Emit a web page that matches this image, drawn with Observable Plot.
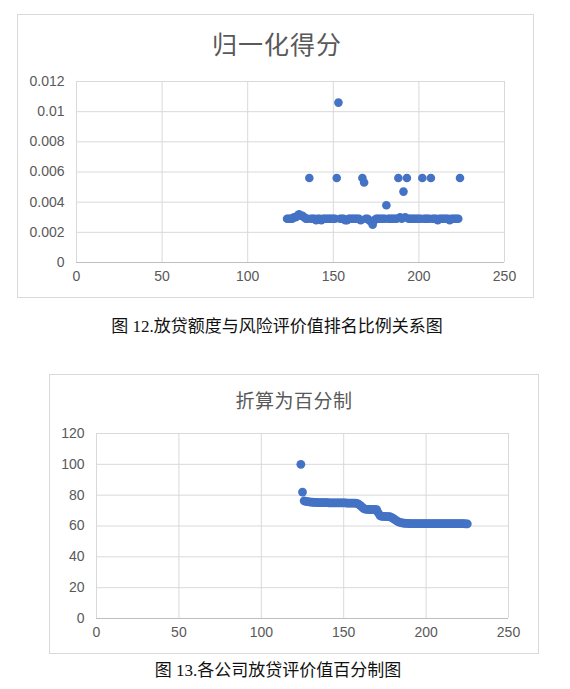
<!DOCTYPE html>
<html><head><meta charset="utf-8">
<script src="https://cdn.jsdelivr.net/npm/d3@7"></script>
<script src="https://cdn.jsdelivr.net/npm/@observablehq/plot@0.6"></script>
<style>
body{margin:0;background:#fff;width:570px;height:689px;position:relative;overflow:hidden;font-family:"Noto Sans CJK SC",sans-serif;}
.box{position:absolute;border:1px solid #d9d9d9;box-sizing:border-box;}
.title{position:absolute;text-align:center;color:#595959;white-space:nowrap;}
.caption{position:absolute;left:0;text-align:center;color:#111;font-family:"Liberation Serif","Noto Sans CJK SC",serif;white-space:nowrap;}
.plot{position:absolute;left:0;}
</style></head><body>
<div class="box" style="left:17px;top:14px;width:517px;height:284px"></div>
<div class="title" style="left:17px;width:520px;top:26px;font-size:25px;line-height:34px;letter-spacing:1px">归一化得分</div>
<div class="plot" id="p1" style="top:60px"></div>
<div class="caption" style="width:554px;top:315px;font-size:17px;line-height:24px">图 12.放贷额度与风险评价值排名比例关系图</div>

<div class="box" style="left:49px;top:374px;width:490px;height:280px"></div>
<div class="title" style="left:49px;width:490px;top:387px;font-size:19px;line-height:26px;letter-spacing:0.5px">折算为百分制</div>
<div class="plot" id="p2" style="top:420px"></div>
<div class="caption" style="width:556px;top:659px;font-size:17px;line-height:24px">图 13.各公司放贷评价值百分制图</div>

<script>
// ---- shared axis ticks ----
const xTicks = [0, 50, 100, 150, 200, 250];

// ---- chart 1: 归一化得分 ----
const yTicks1 = [0, 0.002, 0.004, 0.006, 0.008, 0.01, 0.012];
const yTickLabels1 = ["0", "0.002", "0.004", "0.006", "0.008", "0.01", "0.012"];
const ranks1 = [
  123,124,125,126,127,128,129,130,131,132,
  133,134,135,136,137,138,139,140,141,142,
  143,144,145,146,147,148,149,150,151,152,
  153,154,155,156,157,158,159,160,161,162,
  163,164,165,166,167,168,169,170,171,172,
  173,174,175,176,177,178,179,180,181,182,
  183,184,185,186,187,188,189,190,191,192,
  193,194,195,196,197,198,199,200,201,202,
  203,204,205,206,207,208,209,210,211,212,
  213,214,215,216,217,218,219,220,221,222,
  223,224
];
const scores1 = [
  0.0029,0.0029,0.0029,0.0029,0.0030,0.0030,0.0031,0.0032,0.0031,0.0031,
  0.0030,0.0029,0.0029,0.0056,0.0029,0.0029,0.0029,0.0028,0.0029,0.0029,
  0.0028,0.0029,0.0029,0.0029,0.0029,0.0029,0.0029,0.0029,0.0029,0.0056,
  0.0106,0.0029,0.0029,0.0029,0.0028,0.0028,0.0029,0.0029,0.0029,0.0029,
  0.0029,0.0029,0.0029,0.0028,0.0056,0.0053,0.0029,0.0029,0.0028,0.0027,
  0.0025,0.0028,0.0029,0.0029,0.0029,0.0029,0.0029,0.0029,0.0038,0.0029,
  0.0029,0.0029,0.0029,0.0029,0.0029,0.0056,0.0030,0.0029,0.0047,0.0030,
  0.0056,0.0029,0.0029,0.0029,0.0029,0.0029,0.0029,0.0029,0.0029,0.0056,
  0.0029,0.0029,0.0029,0.0029,0.0056,0.0029,0.0029,0.0029,0.0028,0.0029,
  0.0029,0.0029,0.0029,0.0029,0.0029,0.0028,0.0029,0.0029,0.0029,0.0029,
  0.0029,0.0056
];

// ---- chart 2: 折算为百分制 ----
const yTicks2 = [0, 20, 40, 60, 80, 100, 120];
const ranks2 = [
  124,125,126,127,128,129,130,131,132,133,
  134,135,136,137,138,139,140,141,142,143,
  144,145,146,147,148,149,150,151,152,153,
  154,155,156,157,158,159,160,161,162,163,
  164,165,166,167,168,169,170,171,172,173,
  174,175,176,177,178,179,180,181,182,183,
  184,185,186,187,188,189,190,191,192,193,
  194,195,196,197,198,199,200,201,202,203,
  204,205,206,207,208,209,210,211,212,213,
  214,215,216,217,218,219,220,221,222,223,
  224,225
];
const scores2 = [
  100,82,76.3,76.0,75.8,75.6,75.5,75.4,75.3,75.3,
  75.2,75.2,75.2,75.1,75.1,75.1,75.1,75.0,75.0,75.0,
  75.0,75.0,75.0,75.0,75.0,75.0,75.0,75.0,74.9,74.9,
  74.9,74.9,74.9,74.9,74.7,74.2,73.4,72.4,71.5,71.0,
  70.8,70.7,70.7,70.6,70.6,70.8,70.6,68.5,66.8,66.3,
  66.2,66.2,66.1,66.1,66.0,65.6,64.9,64.1,63.4,62.8,
  62.4,62.1,61.9,61.8,61.7,61.7,61.6,61.6,61.6,61.6,
  61.6,61.6,61.5,61.5,61.5,61.5,61.5,61.5,61.5,61.5,
  61.5,61.5,61.5,61.5,61.5,61.5,61.5,61.5,61.5,61.5,
  61.5,61.5,61.5,61.5,61.5,61.5,61.5,61.5,61.5,61.5,
  61.4,61.4
];

const data1 = ranks1.map((r, i) => ({rank: r, score: scores1[i]}));
const data2 = ranks2.map((r, i) => ({rank: r, score: scores2[i]}));

const gridColor = "#d9d9d9";
const dotColor = "#4472C4";
const tickStyle = {background: "transparent", fontSize: "14px", fontFamily: "'Liberation Sans', 'Noto Sans', sans-serif", color: "#595959", overflow: "visible"};

const p1 = Plot.plot({
  width: 570, height: 240,
  marginLeft: 76, marginRight: 66, marginTop: 21, marginBottom: 38,
  style: tickStyle,
  x: {domain: [0, 250], label: null},
  y: {domain: [0, 0.012], label: null},
  marks: [
    Plot.gridX(xTicks, {stroke: gridColor, strokeOpacity: 1}),
    Plot.gridY(yTicks1, {stroke: gridColor, strokeOpacity: 1}),
    Plot.ruleY([0], {stroke: "#bfbfbf"}),
    Plot.axisX(xTicks, {tickSize: 0, tickPadding: 9, label: null}),
    Plot.axisY(yTicks1, {tickSize: 0, tickPadding: 12, label: null, tickFormat: d => yTickLabels1[yTicks1.indexOf(d)]}),
    Plot.dot(data1, {x: "rank", y: "score", r: 4.3, fill: dotColor})
  ]
});
document.getElementById("p1").append(p1);

const p2 = Plot.plot({
  width: 570, height: 230,
  marginLeft: 96, marginRight: 62, marginTop: 13, marginBottom: 32,
  style: tickStyle,
  x: {domain: [0, 250], label: null},
  y: {domain: [0, 120], label: null},
  marks: [
    Plot.gridX(xTicks, {stroke: gridColor, strokeOpacity: 1}),
    Plot.gridY(yTicks2, {stroke: gridColor, strokeOpacity: 1}),
    Plot.ruleY([0], {stroke: "#bfbfbf"}),
    Plot.axisX(xTicks, {tickSize: 0, tickPadding: 9, label: null}),
    Plot.axisY(yTicks2, {tickSize: 0, tickPadding: 12, label: null}),
    Plot.dot(data2, {x: "rank", y: "score", r: 4.4, fill: dotColor})
  ]
});
document.getElementById("p2").append(p2);
</script>
</body></html>
